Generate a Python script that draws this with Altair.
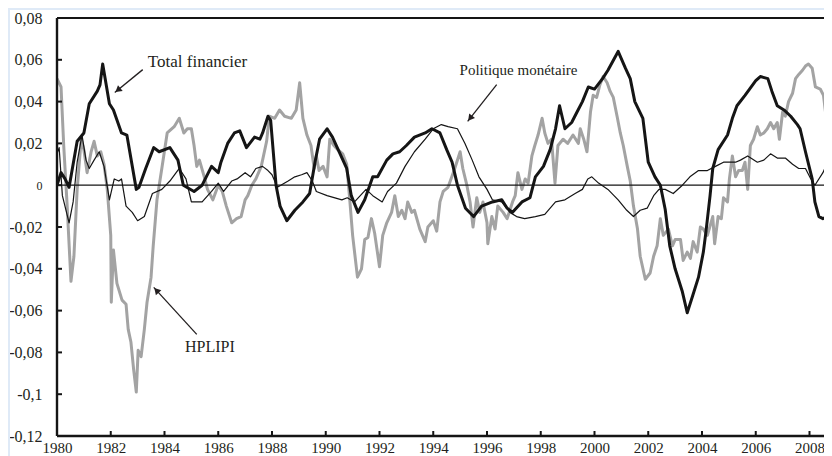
import altair as alt
import pandas as pd
import math

# ---------------- data ----------------
tf_years = [1980.0, 1980.15, 1980.3, 1980.45, 1980.6, 1980.75, 1981.0, 1981.2, 1981.5, 1981.6,
            1981.7, 1981.95, 1982.1, 1982.4, 1982.6, 1982.95, 1983.05, 1983.3, 1983.6, 1983.8,
            1984.2, 1984.5, 1984.7, 1985.1, 1985.4, 1985.75, 1986.0, 1986.1, 1986.35, 1986.6,
            1986.8, 1987.05, 1987.35, 1987.55, 1987.65, 1987.85, 1987.95, 1988.15, 1988.3, 1988.55,
            1988.85, 1989.15, 1989.4, 1989.6, 1989.77, 1990.05, 1990.25, 1990.5, 1990.78, 1990.95,
            1991.2, 1991.45, 1991.75, 1991.93, 1992.27, 1992.5, 1992.75, 1993.0, 1993.3, 1993.7,
            1993.95, 1994.25, 1994.5, 1994.7, 1994.9, 1995.2, 1995.5, 1995.8, 1996.2, 1996.55,
            1996.75, 1996.95, 1997.3, 1997.6, 1997.8, 1998.1, 1998.35, 1998.55, 1998.7, 1998.9,
            1999.15, 1999.35, 1999.55, 1999.77, 2000.0, 2000.3, 2000.5, 2000.88, 2001.15, 2001.33,
            2001.5, 2001.8, 2002.0, 2002.25, 2002.45, 2002.63, 2002.8, 2003.0, 2003.27, 2003.45,
            2003.65, 2003.87, 2004.05, 2004.15, 2004.3, 2004.4, 2004.6, 2004.95, 2005.13, 2005.3,
            2005.6, 2006.0, 2006.17, 2006.45, 2006.6, 2006.8, 2007.05, 2007.3, 2007.55, 2007.65,
            2007.85, 2008.1, 2008.2, 2008.35, 2008.5, 2008.67, 2008.78, 2008.85]
tf_vals = [0.0, 0.006, 0.003, -0.001, 0.010, 0.021, 0.025, 0.039, 0.045, 0.048,
           0.058, 0.039, 0.036, 0.025, 0.024, -0.002, -0.001, 0.008, 0.018, 0.016,
           0.018, 0.012, 0.0, -0.003, 0.0, 0.009, 0.006, 0.011, 0.020, 0.025,
           0.026, 0.018, 0.023, 0.022, 0.025, 0.033, 0.031, 0.0, -0.010, -0.017,
           -0.012, -0.008, -0.004, 0.011, 0.022, 0.027, 0.023, 0.016, 0.008, -0.005,
           -0.013, -0.007, 0.004, 0.004, 0.012, 0.015, 0.016, 0.019, 0.023, 0.025,
           0.027, 0.025, 0.017, 0.011, 0.0, -0.011, -0.015, -0.010, -0.008, -0.007,
           -0.011, -0.013, -0.008, -0.006, 0.004, 0.009, 0.017, 0.027, 0.038, 0.027,
           0.030, 0.035, 0.040, 0.047, 0.046, 0.051, 0.055, 0.064, 0.056, 0.051,
           0.040, 0.032, 0.011, 0.004, 0.0, -0.0115, -0.029, -0.040, -0.051, -0.061,
           -0.053, -0.044, -0.032, -0.022, -0.005, 0.008, 0.017, 0.024, 0.032, 0.038,
           0.043, 0.050, 0.052, 0.051, 0.045, 0.038, 0.036, 0.033, 0.029, 0.027,
           0.016, 0.003, -0.008, -0.015, -0.016, -0.015, -0.006, 0.017]

pm_years = [1980.0, 1980.08, 1980.2, 1980.45, 1980.6, 1980.75, 1980.93, 1981.08, 1981.2, 1981.38,
            1981.57, 1981.75, 1981.95, 1982.13, 1982.3, 1982.4, 1982.57, 1982.8, 1983.0, 1983.25,
            1983.55, 1983.9, 1984.2, 1984.55, 1984.8, 1985.0, 1985.4, 1985.75, 1986.0, 1986.2,
            1986.5, 1986.7, 1987.0, 1987.2, 1987.4, 1987.65, 1987.85, 1988.0, 1988.2, 1988.6,
            1988.85, 1989.1, 1989.3, 1989.5, 1989.65, 1990.05, 1990.6, 1990.8, 1991.07, 1991.5,
            1991.75, 1992.1, 1992.3, 1992.63, 1992.95, 1993.3, 1993.7, 1994.0, 1994.3, 1994.55,
            1994.9, 1995.18, 1995.45, 1995.7, 1996.0, 1996.2, 1996.55, 1996.85, 1997.1, 1997.4,
            1997.8, 1998.15, 1998.55, 1998.9, 1999.28, 1999.55, 1999.75, 1999.9, 2000.15, 2000.5,
            2000.88, 2001.2, 2001.45, 2001.7, 2001.96, 2002.2, 2002.4, 2002.63, 2002.93, 2003.27,
            2003.55, 2003.87, 2004.2, 2004.5, 2004.8, 2005.25, 2005.43, 2005.7, 2006.06, 2006.3,
            2006.55, 2006.8, 2007.1, 2007.37, 2007.6, 2007.85, 2008.05, 2008.2, 2008.5, 2008.7,
            2008.85]
pm_vals = [0.015, 0.018, -0.005, -0.018, -0.008, 0.011, 0.024, 0.012, 0.008, 0.012,
           0.016, 0.009, -0.007, 0.003, 0.002, 0.003, -0.010, -0.013, -0.017, -0.015,
           -0.004, -0.002, 0.002, 0.008, 0.003, -0.008, -0.008, -0.003, 0.001, -0.003,
           0.002, 0.003, 0.006, 0.004, 0.008, 0.009, 0.007, 0.005, -0.001, 0.002,
           0.004, 0.005, 0.006, 0.002, -0.003, -0.005, -0.007, -0.006, -0.008, -0.002,
           -0.005, -0.008, -0.003, 0.001, 0.009, 0.016, 0.022, 0.027, 0.029, 0.028,
           0.027, 0.020, 0.012, 0.004, -0.002, -0.007, -0.008, -0.013, -0.015, -0.016,
           -0.015, -0.014, -0.008, -0.007, -0.004, -0.002, 0.003, 0.004, 0.001, -0.002,
           -0.007, -0.012, -0.015, -0.012, -0.011, -0.005, -0.002, -0.002, -0.004, 0.0,
           0.004, 0.007, 0.007, 0.009, 0.011, 0.011, 0.012, 0.014, 0.011, 0.012,
           0.015, 0.013, 0.013, 0.010, 0.008, 0.008, 0.003, 0.0, 0.006, 0.012,
           0.016]

hp_years = [1980.0, 1980.15, 1980.25, 1980.37, 1980.52, 1980.63, 1980.75, 1980.9, 1981.0, 1981.12,
            1981.27, 1981.38, 1981.5, 1981.63, 1981.75, 1981.87, 1982.0, 1982.02, 1982.1, 1982.23,
            1982.42, 1982.57, 1982.65, 1982.75, 1982.85, 1982.95, 1983.02, 1983.13, 1983.25, 1983.35,
            1983.5, 1983.58, 1983.72, 1983.9, 1984.1, 1984.36, 1984.55, 1984.72, 1984.85, 1985.0,
            1985.1, 1985.2, 1985.3, 1985.48, 1985.6, 1985.8, 1986.0, 1986.15, 1986.3, 1986.5,
            1986.68, 1986.85, 1987.0, 1987.1, 1987.25, 1987.4, 1987.6, 1987.8, 1987.9, 1988.1,
            1988.28, 1988.47, 1988.72, 1988.9, 1989.03, 1989.15, 1989.3, 1989.45, 1989.57, 1989.65,
            1989.75, 1989.9, 1990.05, 1990.15, 1990.3, 1990.45, 1990.63, 1990.78, 1990.9, 1991.0,
            1991.18, 1991.33, 1991.45, 1991.57, 1991.7, 1991.82, 1992.0, 1992.12, 1992.27, 1992.45,
            1992.57, 1992.7, 1992.83, 1992.95, 1993.05, 1993.2, 1993.3, 1993.5, 1993.7, 1993.8,
            1994.0, 1994.13, 1994.25, 1994.37, 1994.55, 1994.8, 1995.0, 1995.1, 1995.25, 1995.37,
            1995.48, 1995.62, 1995.73, 1995.85, 1996.0, 1996.03, 1996.18, 1996.3, 1996.4, 1996.6,
            1996.75, 1996.95, 1997.05, 1997.15, 1997.3, 1997.42, 1997.53, 1997.67, 1997.78, 1997.9,
            1998.05, 1998.15, 1998.27, 1998.4, 1998.53, 1998.64, 1998.83, 1999.0, 1999.2, 1999.4,
            1999.47, 1999.6, 1999.72, 1999.85, 1999.95, 2000.08, 2000.2, 2000.32, 2000.47, 2000.58,
            2000.7, 2000.84, 2000.96, 2001.07, 2001.22, 2001.33, 2001.45, 2001.6, 2001.7, 2001.89,
            2002.07, 2002.2, 2002.33, 2002.45, 2002.56, 2002.75, 2002.9, 2003.0, 2003.2, 2003.3,
            2003.45, 2003.57, 2003.67, 2003.82, 2003.94, 2004.05, 2004.2, 2004.4, 2004.47, 2004.6,
            2004.72, 2004.8, 2004.95, 2005.02, 2005.13, 2005.25, 2005.36, 2005.5, 2005.6, 2005.7,
            2005.8, 2005.92, 2006.06, 2006.17, 2006.3, 2006.43, 2006.55, 2006.67, 2006.8, 2006.88,
            2007.0, 2007.1, 2007.22, 2007.37, 2007.48, 2007.6, 2007.74, 2007.85, 2007.96, 2008.1,
            2008.22, 2008.4, 2008.52, 2008.67, 2008.75, 2008.85]
hp_vals = [0.051, 0.047, 0.019, -0.008, -0.046, -0.034, -0.002, 0.022, 0.017, 0.006,
           0.016, 0.021, 0.014, 0.016, 0.010, -0.002, -0.024, -0.056, -0.031, -0.047,
           -0.055, -0.057, -0.069, -0.075, -0.088, -0.099, -0.079, -0.082, -0.069, -0.056,
           -0.044, -0.029, -0.007, 0.008, 0.025, 0.028, 0.032, 0.025, 0.027, 0.027,
           0.019, 0.009, 0.012, 0.004, -0.002, -0.007, 0.0, -0.003, -0.010, -0.018,
           -0.016, -0.015, -0.007, -0.005, 0.0, 0.003, 0.009, 0.021, 0.033, 0.032,
           0.036, 0.033, 0.032, 0.036, 0.049, 0.032, 0.024, 0.019, 0.008, 0.014,
           0.007, 0.009, 0.004, 0.022, 0.019, 0.017, 0.015, 0.010, -0.008, -0.024,
           -0.044, -0.040, -0.026, -0.025, -0.016, -0.023, -0.039, -0.024, -0.018, -0.013,
           -0.005, -0.015, -0.012, -0.016, -0.008, -0.013, -0.012, -0.021, -0.027, -0.020,
           -0.017, -0.022, -0.008, -0.003, -0.001, 0.008, 0.016, 0.008, 0.0, -0.008,
           -0.020, -0.006, -0.013, -0.008, -0.018, -0.028, -0.015, -0.021, -0.010, -0.013,
           -0.016, -0.008, -0.005, 0.006, -0.002, 0.003, 0.001, 0.014, 0.019, 0.024,
           0.032, 0.025, 0.020, 0.022, 0.001, 0.019, 0.022, 0.020, 0.024, 0.020,
           0.027, 0.022, 0.016, 0.035, 0.043, 0.042, 0.048, 0.052, 0.049, 0.045,
           0.042, 0.033, 0.025, 0.019, 0.009, 0.002, -0.010, -0.021, -0.034, -0.045,
           -0.042, -0.034, -0.029, -0.016, -0.024, -0.021, -0.029, -0.026, -0.026, -0.036,
           -0.032, -0.035, -0.027, -0.032, -0.020, -0.021, -0.024, -0.015, -0.028, -0.015,
           -0.016, -0.006, -0.008, 0.003, 0.014, 0.004, 0.007, 0.007, 0.011, -0.002,
           0.019, 0.022, 0.028, 0.024, 0.025, 0.027, 0.030, 0.027, 0.030, 0.022,
           0.035, 0.033, 0.040, 0.044, 0.051, 0.053, 0.055, 0.057, 0.058, 0.056,
           0.047, 0.046, 0.043, 0.027, 0.003, -0.021]

x_ticks = [1980, 1982, 1984, 1986, 1988, 1990, 1992, 1994, 1996, 1998, 2000, 2002, 2004, 2006, 2008]
y_ticks = [-0.12, -0.1, -0.08, -0.06, -0.04, -0.02, 0.0, 0.02, 0.04, 0.06, 0.08]

ann_text = ["Total financier", "Politique monétaire", "HPLIPI"]
ann_text_x = [1983.38, 1994.98, 1984.76]
ann_text_y = [0.0567, 0.0529, -0.0800]
ann_font_size = [17, 15, 16]
arrow_from_x = [1983.19, 1996.36, 1985.2]
arrow_from_y = [0.0553, 0.0481, -0.0714]
arrow_to_x = [1982.15, 1995.28, 1983.6]
arrow_to_y = [0.0443, 0.0305, -0.0489]

# ---------------- layout / style ----------------
PX_PER_YEAR = 26.875
W, H = 767, 418
X_MIN = 1980
X_MAX = X_MIN + W / PX_PER_YEAR
Y_MIN, Y_MAX = -0.12, 0.08
FONT = "'Liberation Serif', 'Times New Roman', 'DejaVu Serif', serif"
INK = "#231f20"
GREY = "#a3a3a3"
BLUE = "#dfeaf7"

px_per_x = W / (X_MAX - X_MIN)
px_per_y = H / (Y_MAX - Y_MIN)

xs = alt.Scale(domain=[X_MIN, X_MAX], nice=False, zero=False)
ys = alt.Scale(domain=[Y_MIN, Y_MAX], nice=False, zero=False)

x_axis = alt.Axis(values=x_ticks, format="d", title=None, grid=False, domain=False, ticks=False,
                  labelFont=FONT, labelFontSize=15, labelColor=INK, labelPadding=4,
                  labelFlush=False, labelOverlap=False)
y_axis = alt.Axis(values=y_ticks, title=None, grid=False, domain=False, ticks=False,
                  labelFont=FONT,
                  labelFontSize={"condition": {"test": "datum.value == 0", "value": 12}, "value": 16},
                  labelColor=INK, labelPadding=15, labelFlush=False, labelOverlap=False,
                  labelExpr="replace(replace(format(datum.value, '.2~f'), '.', ','), '\u2212', '-')")


def X(f):
    return alt.X(f, type="quantitative", scale=xs, axis=x_axis)


def Y(f):
    return alt.Y(f, type="quantitative", scale=ys, axis=y_axis)


tf_df = pd.DataFrame({"year": tf_years, "v": tf_vals})
pm_df = pd.DataFrame({"year": pm_years, "v": pm_vals})
hp_df = pd.DataFrame({"year": hp_years, "v": hp_vals})
one = pd.DataFrame({"a": [0]})

# light blue page strip of the reference
blue_left = alt.Chart(one).mark_rect(fill=BLUE).encode(
    x=alt.value(-49), x2=alt.value(-47), y=alt.value(-10), y2=alt.value(H + 40))
blue_top = alt.Chart(one).mark_rect(fill=BLUE).encode(
    x=alt.value(-49), x2=alt.value(W), y=alt.value(-10), y2=alt.value(-8))

hp_line = alt.Chart(hp_df).mark_line(color=GREY, strokeWidth=3, strokeJoin="round", clip=True).encode(
    x=X("year"), y=Y("v"))
tf_line = alt.Chart(tf_df).mark_line(color="#151515", strokeWidth=3, strokeJoin="round", clip=True).encode(
    x=X("year"), y=Y("v"))
pm_line = alt.Chart(pm_df).mark_line(color="#151515", strokeWidth=1.2, strokeJoin="round", clip=True).encode(
    x=X("year"), y=Y("v"))

# frame: top, left and bottom lines + zero line
zero_line = alt.Chart(one).mark_rule(color="#151515", strokeWidth=1.2).encode(
    y=alt.datum(0, scale=ys, axis=y_axis))
top_line = alt.Chart(one).mark_rule(color="#151515", strokeWidth=2).encode(
    y=alt.datum(Y_MAX, scale=ys, axis=y_axis))
bottom_line = alt.Chart(one).mark_rule(color="#151515", strokeWidth=2.4).encode(
    y=alt.datum(Y_MIN, scale=ys, axis=y_axis))
left_line = alt.Chart(one).mark_rule(color="#151515", strokeWidth=2.4).encode(
    x=alt.datum(X_MIN, scale=xs, axis=x_axis))

ytick_df = pd.DataFrame({"v": y_ticks})
xtick_df = pd.DataFrame({"year": x_ticks})
y_tick_marks = alt.Chart(ytick_df).mark_rule(color="#151515", strokeWidth=2).encode(
    y=Y("v"), x=alt.value(0), x2=alt.value(5))
x_tick_marks = alt.Chart(xtick_df).mark_rule(color="#151515", strokeWidth=2).encode(
    x=X("year"), y=alt.value(H), y2=alt.value(H - 5))

# annotations
ann_df = pd.DataFrame({"t": ann_text, "x": ann_text_x, "y": ann_text_y, "fs": ann_font_size})
ann_text_layer = alt.Chart(ann_df).mark_text(font=FONT, color=INK, align="left",
                                             baseline="alphabetic").encode(
    x=X("x"), y=Y("y"), text="t:N", size=alt.Size("fs:Q", scale=None, legend=None))

arr_df = pd.DataFrame({"x1": arrow_from_x, "y1": arrow_from_y, "x2": arrow_to_x, "y2": arrow_to_y})
angles, hx, hy = [], [], []
for x1, y1, x2, y2 in zip(arrow_from_x, arrow_from_y, arrow_to_x, arrow_to_y):
    dx = (x2 - x1) * px_per_x
    dy = -(y2 - y1) * px_per_y
    angles.append(math.degrees(math.atan2(dx, -dy)) % 360)
    L = math.hypot(dx, dy)
    back = 4.0
    hx.append(x2 - (dx / L) * back / px_per_x)
    hy.append(y2 + (dy / L) * back / px_per_y)
arr_df["ang"] = angles
arr_df["hx"] = hx
arr_df["hy"] = hy

arrow_lines = alt.Chart(arr_df).mark_rule(color=INK, strokeWidth=1.3).encode(
    x=X("x1"), y=Y("y1"), x2="x2:Q", y2="y2:Q")
arrow_heads = alt.Chart(arr_df).mark_point(shape="triangle-up", filled=True, color=INK,
                                           size=55, opacity=1).encode(
    x=X("hx"), y=Y("hy"), angle=alt.Angle("ang:Q", scale=None))

chart = alt.layer(
    blue_left, blue_top, hp_line, tf_line, pm_line, zero_line, top_line, bottom_line, left_line,
    y_tick_marks, x_tick_marks, arrow_lines, arrow_heads, ann_text_layer
).properties(
    width=W, height=H,
    padding={"left": 49, "top": 10, "right": 0, "bottom": 22},
    autosize="none",
    background="white",
).configure_view(stroke=None)

chart.save("out.html", embed_options={"renderer": "svg", "actions": False})
